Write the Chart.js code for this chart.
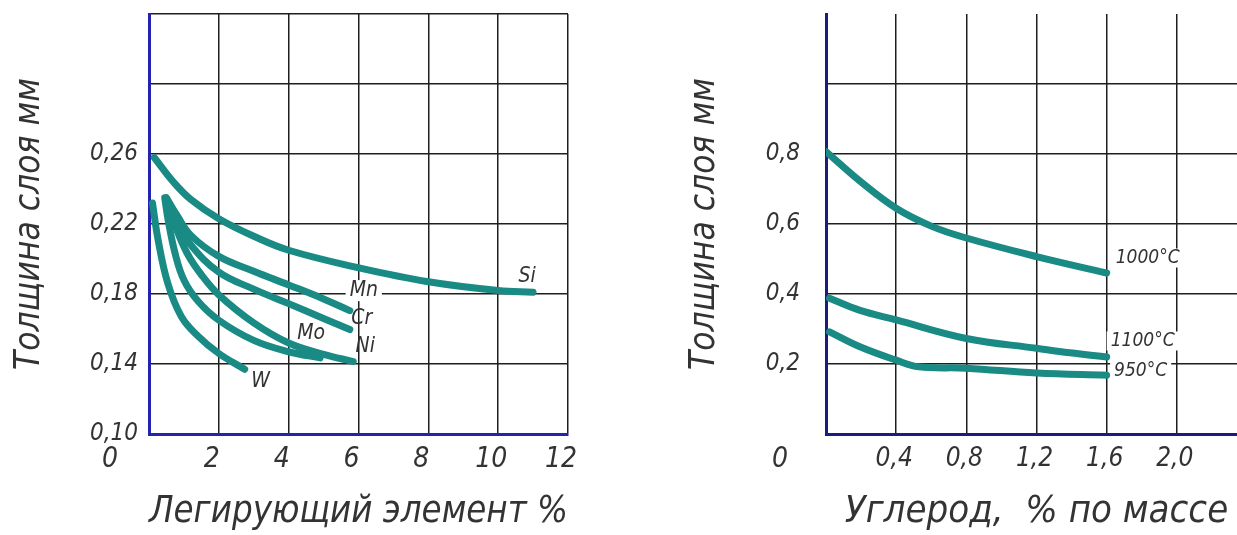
<!DOCTYPE html>
<html lang="ru">
<head>
<meta charset="utf-8">
<title>Толщина слоя</title>
<script src="https://cdn.jsdelivr.net/npm/chart.js@4.4.1/dist/chart.umd.min.js"></script>
<style>
  html, body { margin: 0; padding: 0; background: #fff; overflow: hidden; }
  .panel { position: absolute; top: 0; height: 535px; }
  #left { left: 0; width: 618px; }
  #right { left: 618px; width: 642px; }
</style>
</head>
<body>
<div class="panel" id="left"><canvas id="alloy-chart" width="618" height="535"></canvas></div>
<div class="panel" id="right"><canvas id="carbon-chart" width="642" height="535"></canvas></div>
<script>
// ---- left chart: alloying element, % ----
const alloyXTicks = [0, 2, 4, 6, 8, 10, 12];
const alloyXLabels = ["", "2", "4", "6", "8", "10", "12"];
const alloyYTicks = [0.10, 0.14, 0.18, 0.22, 0.26, 0.30, 0.34];
const alloyYLabels = ["0,10", "0,14", "0,18", "0,22", "0,26", "", ""];

const siX = [0.15, 0.7, 1.2, 2, 3, 4, 6, 8, 10, 11];
const siY = [0.258, 0.244, 0.234, 0.223, 0.213, 0.205, 0.195, 0.187, 0.182, 0.181];
const mnX = [0.5, 0.8, 1.2, 2, 3, 4, 5, 5.75];
const mnY = [0.235, 0.225, 0.2135, 0.2015, 0.193, 0.1852, 0.1772, 0.1705];
const crX = [0.5, 0.8, 1.2, 2, 3, 4, 5, 5.75];
const crY = [0.234, 0.221, 0.208, 0.1925, 0.1828, 0.1745, 0.166, 0.1597];
const niX = [0.5, 0.75, 1.1, 1.5, 2, 3, 4, 5, 5.85];
const niY = [0.234, 0.219, 0.203, 0.191, 0.1795, 0.1635, 0.152, 0.1455, 0.1414];
const moX = [0.45, 0.55, 0.75, 1.0, 1.4, 2, 3, 4, 4.9];
const moY = [0.235, 0.222, 0.203, 0.188, 0.176, 0.165, 0.1535, 0.147, 0.1435];
const wX = [0.1, 0.26, 0.54, 0.93, 1.4, 2.0, 2.74];
const wY = [0.232, 0.211, 0.186, 0.167, 0.156, 0.146, 0.137];

// ---- right chart: carbon, % by mass ----
const carbonXTicks = [0, 0.4, 0.8, 1.2, 1.6, 2.0, 2.4];
const carbonXLabels = ["", "0,4", "0,8", "1,2", "1,6", "2,0", ""];
const carbonYTicks = [0, 0.2, 0.4, 0.6, 0.8, 1.0, 1.2];
const carbonYLabels = ["", "0,2", "0,4", "0,6", "0,8", "", ""];

const t1000X = [0, 0.2, 0.4, 0.6, 0.8, 1.2, 1.6];
const t1000Y = [0.807, 0.72, 0.645, 0.594, 0.56, 0.507, 0.46];
const t1100X = [0.02, 0.19, 0.4, 0.8, 1.2, 1.39, 1.6];
const t1100Y = [0.388, 0.354, 0.326, 0.273, 0.245, 0.232, 0.22];
const t950X = [0.02, 0.19, 0.4, 0.53, 0.8, 1.2, 1.6];
const t950Y = [0.292, 0.25, 0.211, 0.192, 0.188, 0.174, 0.168];

const FONT = "'Liberation Sans Narrow', 'DejaVu Sans Condensed', sans-serif";
const CURVE = "#198a84";
const INK = "#333";

Chart.defaults.font.family = FONT;
Chart.defaults.font.style = "italic";
Chart.defaults.color = INK;

const pts = (xs, ys) => xs.map((x, i) => ({ x: x, y: ys[i] }));

const curve = (label, xs, ys, labelAt, labelBox) => ({
    label: label,
    data: pts(xs, ys),
    borderColor: CURVE,
    borderWidth: 7,
    borderCapStyle: "round",
    borderJoinStyle: "round",
    pointRadius: 0,
    tension: 0.4,
    fill: false,
    labelAt: labelAt,
    labelBox: labelBox
});

// names next to curve ends + the "0" at the origin
const curveLabels = {
    id: "curveLabels",
    afterDatasetsDraw(chart, args, opts) {
        const ctx = chart.ctx;
        ctx.save();
        ctx.textAlign = "center";
        ctx.textBaseline = "middle";
        ctx.font = "italic " + opts.size + "px " + FONT;
        chart.data.datasets.forEach((ds, i) => {
            const els = chart.getDatasetMeta(i).data;
            const end = els[els.length - 1];
            const x = end.x + ds.labelAt[0];
            const y = end.y + ds.labelAt[1];
            const w = ctx.measureText(ds.label).width;
            if (ds.labelBox) {
                ctx.fillStyle = "#fff";
                ctx.fillRect(x - w / 2 - 4, y - opts.size / 2, w + 8, opts.size);
            }
            ctx.fillStyle = INK;
            ctx.fillText(ds.label, x, y);
        });
        const xs = chart.scales.x;
        ctx.font = "italic " + opts.originSize + "px " + FONT;
        ctx.fillText("0", xs.getPixelForValue(0) + opts.originDx, xs.top + opts.originDy);
        ctx.restore();
    }
};

function makeChart(id, cfg) {
    const ctx = document.getElementById(id);
    return new Chart(ctx, {
        type: "line",
        data: { datasets: cfg.datasets },
        plugins: [curveLabels],
        options: {
            responsive: false,
            animation: false,
            layout: { padding: cfg.padding },
            plugins: {
                legend: { display: false },
                tooltip: { enabled: false },
                curveLabels: cfg.labelOpts
            },
            scales: {
                x: {
                    type: "linear",
                    min: cfg.xTicks[0],
                    max: cfg.xTicks[cfg.xTicks.length - 1],
                    afterBuildTicks: s => { s.ticks = cfg.xTicks.map(v => ({ value: v })); },
                    afterFit: s => {
                        s.height = cfg.xHeight;
                        s.paddingLeft = 0;
                        s.paddingRight = 0;
                    },
                    ticks: {
                        autoSkip: false,
                        maxRotation: 0,
                        padding: cfg.xTickPad,
                        labelOffset: cfg.xLabelOffset,
                        font: { size: cfg.xTickSize },
                        callback: (v, i) => cfg.xLabels[i]
                    },
                    grid: { color: "#1e1e1e", lineWidth: 1.5, drawTicks: false },
                    border: { color: cfg.axisColor, width: 3 },
                    title: {
                        display: true,
                        text: cfg.xTitle,
                        font: { size: 38 },
                        padding: { top: 0, bottom: 0 }
                    }
                },
                y: {
                    type: "linear",
                    min: cfg.yTicks[0],
                    max: cfg.yTicks[cfg.yTicks.length - 1],
                    afterBuildTicks: s => { s.ticks = cfg.yTicks.map(v => ({ value: v })); },
                    afterFit: s => {
                        s.width = cfg.yWidth;
                        s.paddingTop = 0;
                        s.paddingBottom = 0;
                    },
                    ticks: {
                        padding: cfg.yTickPad,
                        font: { size: 24 },
                        callback: (v, i) => cfg.yLabels[i]
                    },
                    grid: {
                        color: c => (cfg.noTopLine && c.index === cfg.yTicks.length - 1) ? "rgba(0,0,0,0)" : "#1e1e1e",
                        lineWidth: 1.5,
                        drawTicks: false
                    },
                    border: { color: cfg.axisColor, width: 3 },
                    title: {
                        display: true,
                        text: "Толщина слоя мм",
                        font: { size: 35 },
                        padding: { top: cfg.yTitlePad, bottom: 0 }
                    }
                }
            }
        }
    });
}

makeChart("alloy-chart", {
    datasets: [
        curve("Si", siX, siY, [-6, -16], false),
        curve("Mn", mnX, mnY, [14, -20], true),
        curve("Cr", crX, crY, [12, -11], false),
        curve("Ni", niX, niY, [12, -15], false),
        curve("Mo", moX, moY, [-9, -24], false),
        curve("W", wX, wY, [16, 12], false)
    ],
    padding: { top: 14, right: 50, bottom: 0, left: 0 },
    xTicks: alloyXTicks, xLabels: alloyXLabels,
    yTicks: alloyYTicks, yLabels: alloyYLabels,
    xHeight: 101, yWidth: 149,
    xTickPad: 9, xTickSize: 28, xLabelOffset: -7,
    yTickPad: 11, yTitlePad: 9,
    xTitle: "Легирующий элемент %",
    axisColor: "#2323b0",
    noTopLine: false,
    labelOpts: { size: 21, originSize: 28, originDx: -39, originDy: 26 }
});

makeChart("carbon-chart", {
    datasets: [
        curve("1000°C", t1000X, t1000Y, [41, -15], true),
        curve("1100°C", t1100X, t1100Y, [36, -16], true),
        curve("950°C", t950X, t950Y, [34, -4], true)
    ],
    padding: { top: 14, right: 13, bottom: 0, left: 0 },
    xTicks: carbonXTicks, xLabels: carbonXLabels,
    yTicks: carbonYTicks, yLabels: carbonYLabels,
    xHeight: 101, yWidth: 208,
    xTickPad: 10, xTickSize: 26, xLabelOffset: -2,
    yTickPad: 26, yTitlePad: 66,
    xTitle: "Углерод,  % по массе",
    axisColor: "#1c1c7c",
    noTopLine: true,
    labelOpts: { size: 19, originSize: 28, originDx: -46, originDy: 26 }
});
</script>
</body>
</html>
